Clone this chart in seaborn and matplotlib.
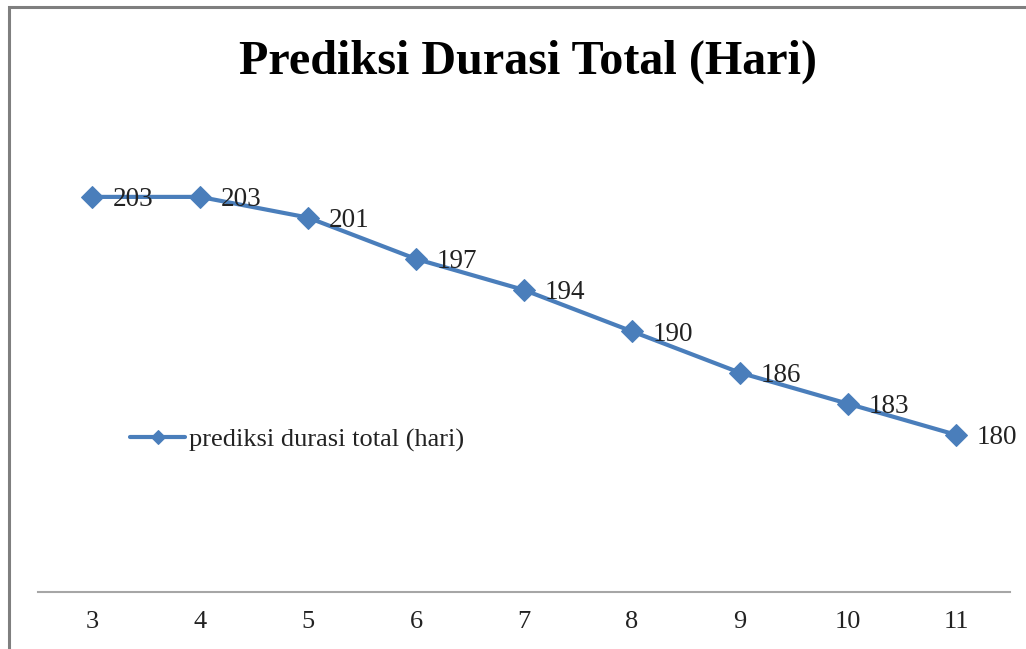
import matplotlib
matplotlib.use('Agg')
import matplotlib.pyplot as plt
import seaborn as sns
import pandas as pd
from matplotlib.patches import Rectangle

# data
bulan = [3, 4, 5, 6, 7, 8, 9, 10, 11]
durasi = [203, 203, 201, 197, 194, 190, 186, 183, 180]
label_seri = 'prediksi durasi total (hari)'
judul = 'Prediksi Durasi Total (Hari)'

df = pd.DataFrame({'x': bulan, 'durasi': durasi})

sns.set_theme(style='white')
plt.rcParams['font.family'] = ['Liberation Serif', 'DejaVu Serif']

biru = '#4a7ebb'

fig = plt.figure(figsize=(10.26, 6.49), dpi=100)
ax = fig.add_axes([38 / 1026, 1 - 592 / 649, 972 / 1026, (592 - 124.5) / 649])

sns.lineplot(data=df, x='x', y='durasi', ax=ax, color=biru, linewidth=3,
             marker='D', markersize=11, markeredgecolor=biru, label=label_seri)

for xv, yv in zip(bulan, durasi):
    ax.annotate(str(yv), (xv, yv), xytext=(15, -2), textcoords='offset points',
                ha='left', va='center', fontsize=19.5, color='#222222')

ax.set_xlim(2.5, 11.5)
ax.set_ylim(164.8, 210)
ax.set_xticks(bulan)
ax.set_xticklabels([str(b) for b in bulan], fontsize=19, color='#222222')
ax.set_yticks([])
ax.set_xlabel('')
ax.set_ylabel('')
ax.tick_params(axis='x', length=0, pad=14)
for s in ['top', 'left', 'right']:
    ax.spines[s].set_visible(False)
ax.spines['bottom'].set_color('#a6a6a6')
ax.spines['bottom'].set_linewidth(1.5)

leg = ax.legend(loc='center left', bbox_to_anchor=(0.0947, 0.325), frameon=False,
                fontsize=19, handlelength=2.1, handletextpad=0.12, borderpad=0,
                borderaxespad=0)
for t in leg.get_texts():
    t.set_color('#222222')
for h in leg.legend_handles:
    h.set_markersize(7)

fig.text(0.515, 1 - 62 / 649, judul, ha='center', va='center',
         fontsize=34.7, fontweight='bold', color='black')

# outer chart border (gray), clipped on right and bottom like the screenshot
fig.patches.append(Rectangle((9 / 1026, -0.05), 1.2, 1 - 7 / 649 + 0.05,
                             transform=fig.transFigure, fill=False,
                             edgecolor='#7f7f7f', linewidth=2.2))

fig.savefig('out.png', dpi=100)
